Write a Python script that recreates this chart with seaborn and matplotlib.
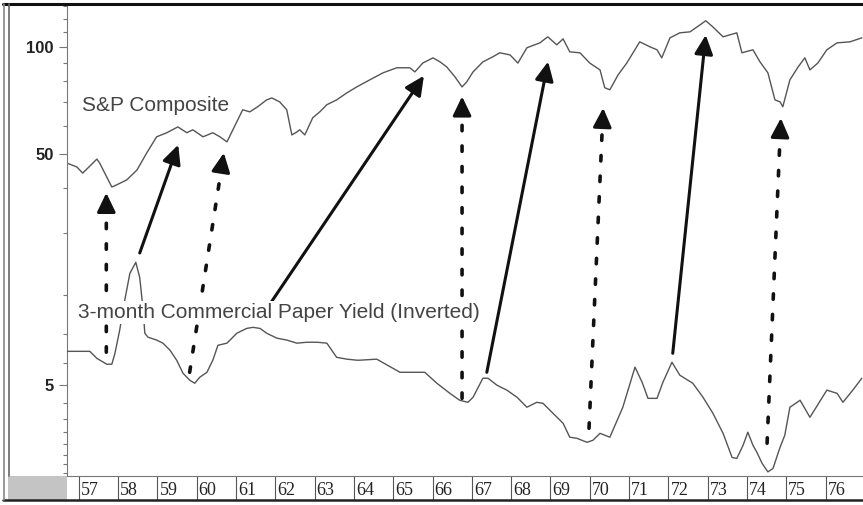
import numpy as np
import seaborn as sns
import matplotlib.pyplot as plt
from matplotlib import transforms
from matplotlib.lines import Line2D
from matplotlib.patches import Rectangle
from matplotlib.ticker import FixedLocator, NullFormatter

sns.set_theme(style="white")
plt.rcParams["font.family"] = ["Liberation Sans", "DejaVu Sans"]

# S&P Composite (log scale)
spx_year = [1956.69, 1956.95, 1957.10, 1957.46, 1957.53, 1957.84, 1957.97, 1958.22, 1958.48, 1958.73,
            1958.98, 1959.24, 1959.52, 1959.75, 1959.90, 1960.16, 1960.41, 1960.59, 1960.77, 1960.92,
            1961.17, 1961.35, 1961.55, 1961.78, 1961.91, 1962.11, 1962.29, 1962.42, 1962.55, 1962.62,
            1962.75, 1962.95, 1963.13, 1963.31, 1963.56, 1963.82, 1964.07, 1964.40, 1964.74, 1965.09,
            1965.42, 1965.55, 1965.75, 1966.01, 1966.19, 1966.36, 1966.57, 1966.75, 1966.87, 1967.03,
            1967.28, 1967.53, 1967.71, 1967.97, 1968.17, 1968.40, 1968.73, 1968.93, 1969.16, 1969.32,
            1969.49, 1969.75, 1970.00, 1970.26, 1970.38, 1970.51, 1970.72, 1970.94, 1971.27, 1971.53,
            1971.71, 1971.83, 1972.04, 1972.29, 1972.55, 1972.73, 1972.95, 1973.13, 1973.39, 1973.74,
            1973.87, 1974.15, 1974.33, 1974.53, 1974.71, 1974.84, 1974.91, 1975.09, 1975.30, 1975.47,
            1975.60, 1975.80, 1976.03, 1976.29, 1976.62, 1976.92]
spx_value = [47.1, 45.9, 44.1, 48.3, 47.1, 40.3, 40.9, 42.2, 45.0, 50.3,
             55.8, 57.3, 59.5, 57.3, 58.4, 55.8, 57.3, 55.8, 54.0, 58.4,
             66.5, 65.6, 67.8, 70.9, 71.8, 70.0, 66.5, 56.5, 57.6, 58.4,
             56.5, 63.1, 65.6, 68.7, 70.9, 74.2, 77.1, 80.7, 84.5, 87.3,
             87.3, 85.0, 90.0, 93.1, 90.7, 87.8, 82.3, 77.1, 79.7, 85.0,
             90.7, 93.7, 96.2, 94.9, 90.0, 99.4, 102.6, 106.7, 101.3, 105.3,
             96.8, 96.2, 90.0, 86.1, 76.7, 75.7, 83.4, 90.0, 103.3, 100.0,
             98.1, 93.1, 106.0, 109.5, 110.2, 113.8, 118.4, 113.8, 106.7, 109.5,
             96.2, 98.1, 90.7, 84.5, 70.9, 70.0, 67.8, 80.7, 87.8, 93.1,
             86.1, 90.0, 98.1, 102.6, 103.3, 106.0]

# 3-month commercial paper yield, % (plotted inverted)
cp_year = [1956.69, 1957.28, 1957.46, 1957.71, 1957.84, 1957.92, 1958.04, 1958.17, 1958.30, 1958.45,
           1958.55, 1958.63, 1958.68, 1958.76, 1958.98, 1959.14, 1959.32, 1959.49, 1959.65, 1959.82,
           1959.95, 1960.08, 1960.26, 1960.41, 1960.54, 1960.77, 1961.02, 1961.27, 1961.43, 1961.61,
           1961.78, 1962.04, 1962.29, 1962.55, 1962.80, 1963.06, 1963.31, 1963.56, 1963.82, 1964.07,
           1964.15, 1964.58, 1965.17, 1965.80, 1966.11, 1966.44, 1966.69, 1966.90, 1967.03, 1967.28,
           1967.41, 1967.64, 1967.89, 1968.15, 1968.40, 1968.65, 1968.81, 1969.06, 1969.32, 1969.49,
           1969.67, 1969.93, 1970.08, 1970.26, 1970.51, 1970.84, 1971.15, 1971.33, 1971.48, 1971.71,
           1971.86, 1972.09, 1972.29, 1972.62, 1972.88, 1973.13, 1973.39, 1973.62, 1973.74, 1973.90,
           1974.02, 1974.15, 1974.25, 1974.38, 1974.53, 1974.66, 1974.84, 1974.96, 1975.09, 1975.35,
           1975.60, 1976.03, 1976.29, 1976.44, 1976.69, 1976.92]
cp_yield = [3.56, 3.56, 3.82, 4.05, 4.05, 3.63, 2.88, 2.13, 1.63, 1.46,
            1.70, 2.29, 2.97, 3.09, 3.18, 3.28, 3.52, 3.89, 4.43, 4.75,
            4.90, 4.61, 4.39, 3.89, 3.35, 3.28, 2.97, 2.83, 2.80, 2.83,
            2.97, 3.12, 3.18, 3.28, 3.25, 3.25, 3.28, 3.78, 3.85, 3.89,
            3.89, 3.85, 4.39, 4.39, 4.90, 5.42, 5.81, 5.93, 5.64, 4.66,
            4.66, 5.00, 5.25, 5.64, 6.23, 5.93, 5.99, 6.61, 7.31, 8.41,
            8.50, 8.85, 8.67, 8.09, 8.41, 6.23, 4.17, 4.85, 5.70, 5.70,
            4.85, 3.97, 4.52, 4.90, 5.64, 6.61, 8.09, 10.3, 10.4, 9.11,
            8.00, 9.11, 9.78, 10.9, 11.9, 11.5, 9.30, 8.25, 6.23, 5.81,
            6.89, 5.25, 5.42, 5.93, 5.25, 4.66]

# arrows: from the yield line up to the S&P line
arrow_from_year = [1957.70, 1958.55, 1959.82, 1961.90, 1966.75, 1967.38, 1969.98, 1972.11, 1974.51]
arrow_from_yield = [3.59, 1.33, 4.39, 2.17, 5.70, 4.39, 7.69, 3.63, 8.93]
arrow_to_year = [1957.70, 1959.53, 1960.69, 1965.78, 1966.75, 1968.94, 1970.34, 1972.95, 1974.86]
arrow_to_spx = [38.8, 53.0, 50.3, 82.9, 72.5, 90.9, 67.3, 108.0, 63.0]
arrow_dotted = [True, False, True, False, True, False, True, False, True]

year_ticks = list(range(1957, 1977))
year_labels = [str(y)[2:] for y in year_ticks]

W, H = 863, 505
fig = plt.figure(figsize=(W / 100, H / 100), dpi=100, facecolor="white")
ax = fig.add_axes([67 / W, 29 / H, 796 / W, 472 / H])
ax2 = ax.twinx()

sns.lineplot(x=spx_year, y=spx_value, ax=ax, color="#555555", linewidth=1.0,
             estimator=None, sort=False)
sns.lineplot(x=cp_year, y=cp_yield, ax=ax2, color="#555555", linewidth=1.0,
             estimator=None, sort=False)

ax.set_yscale("log")
ax.set_ylim(6.19, 132)
ax2.set_yscale("log")
ax2.set_ylim(12.4, 0.11)
ax.set_xlim(1956.7, 1976.95)

# y ticks: S&P on the main axis, yield on the twin (both shown on the left)
ax.yaxis.set_major_locator(FixedLocator([50, 100]))
ax.set_yticklabels(["50", "100"], fontweight="bold", color="#222222")
ax.yaxis.set_minor_locator(FixedLocator([20, 30, 40, 60, 70, 80, 90, 110, 120, 130]))
ax.yaxis.set_minor_formatter(NullFormatter())

ax2.yaxis.set_ticks_position("left")
ax2.yaxis.set_major_locator(FixedLocator([5]))
ax2.set_yticklabels(["5"], fontweight="bold", color="#222222")
ax2.yaxis.set_minor_locator(FixedLocator([3, 4, 6, 7, 8, 9, 10, 11, 12]))
ax2.yaxis.set_minor_formatter(NullFormatter())

for a in (ax, ax2):
    a.tick_params(axis="y", which="major", length=6, width=0.8, color="#777777",
                  labelsize=12, pad=3.5, left=True, right=False)
    a.tick_params(axis="y", which="minor", length=3, width=0.8, color="#777777",
                  left=True, right=False)
    a.set_ylabel("")
    a.set_xlabel("")

# x axis: year boxes under the plot
ax.set_xticks(year_ticks)
ax.set_xticklabels(year_labels, family="Liberation Serif", color="#222222")
ax.tick_params(axis="x", which="major", length=17, width=0.8, color="#555555",
               direction="out", labelsize=13, pad=-13, bottom=True)
shift = transforms.ScaledTranslation(2 / 100, 0, fig.dpi_scale_trans)
for lab in ax.get_xticklabels():
    lab.set_horizontalalignment("left")
    lab.set_transform(lab.get_transform() + shift)

for s in ax2.spines.values():
    s.set_visible(False)
ax.spines["right"].set_visible(False)
ax.spines["top"].set_visible(False)
ax.spines["left"].set_color("#777777")
ax.spines["left"].set_linewidth(0.8)
ax.spines["bottom"].set_color("#777777")
ax.spines["bottom"].set_linewidth(0.8)

# arrows
head = "-|>,head_length=0.58,head_width=0.28"
head_pts = 0.58 * 20
for x0, y0, x1, y1, dotted in zip(arrow_from_year, arrow_from_yield, arrow_to_year,
                                  arrow_to_spx, arrow_dotted):
    if not dotted:
        ax2.annotate("", xy=(x1, y1), xycoords=ax.transData,
                     xytext=(x0, y0), textcoords=ax2.transData,
                     arrowprops=dict(arrowstyle=head, mutation_scale=20, color="#111111",
                                     lw=2.2, shrinkA=0, shrinkB=0))
        continue
    # dotted shaft, then a solid head on its own
    ax2.annotate("", xy=(x1, y1), xycoords=ax.transData,
                 xytext=(x0, y0), textcoords=ax2.transData,
                 arrowprops=dict(arrowstyle="-", color="#111111", lw=2.6,
                                 linestyle=(0, (1.5, 4.2)), shrinkA=0, shrinkB=head_pts + 3))
    p0 = ax2.transData.transform((x0, y0))
    p1 = ax.transData.transform((x1, y1))
    u = (p1 - p0) / np.hypot(*(p1 - p0))
    ax2.annotate("", xy=(x1, y1), xycoords=ax.transData,
                 xytext=(-u[0] * head_pts, -u[1] * head_pts), textcoords="offset points",
                 arrowprops=dict(arrowstyle=head, mutation_scale=20, color="#111111",
                                 lw=2.2, shrinkA=0, shrinkB=0))

ax2.text(0.019, 0.786, "S&P Composite", transform=ax.transAxes, fontsize=15,
         color="#444444", va="center", ha="left", zorder=10)
ax2.text(0.014, 0.347, "3-month Commercial Paper Yield (Inverted)", transform=ax.transAxes,
         fontsize=15, color="#444444", va="center", ha="left", zorder=10,
         bbox=dict(facecolor="white", edgecolor="none", pad=1.5))

# frame around the figure
fig.add_artist(Rectangle((8 / W, 5 / H), 59 / W, 24 / H, transform=fig.transFigure,
                         facecolor="#c4c4c4", edgecolor="none"))
fig.add_artist(Line2D([3 / W, 1], [501 / H, 501 / H], transform=fig.transFigure,
                      color="#111111", lw=2.2))
fig.add_artist(Line2D([3 / W, 1], [5 / H, 5 / H], transform=fig.transFigure,
                      color="#222222", lw=1.8))
fig.add_artist(Line2D([3.5 / W, 3.5 / W], [5 / H, 501 / H], transform=fig.transFigure,
                      color="#888888", lw=1.2))
fig.add_artist(Line2D([9 / W, 9 / W], [29 / H, 501 / H], transform=fig.transFigure,
                      color="#666666", lw=1.2))

fig.savefig("out.png", dpi=100, facecolor="white")
